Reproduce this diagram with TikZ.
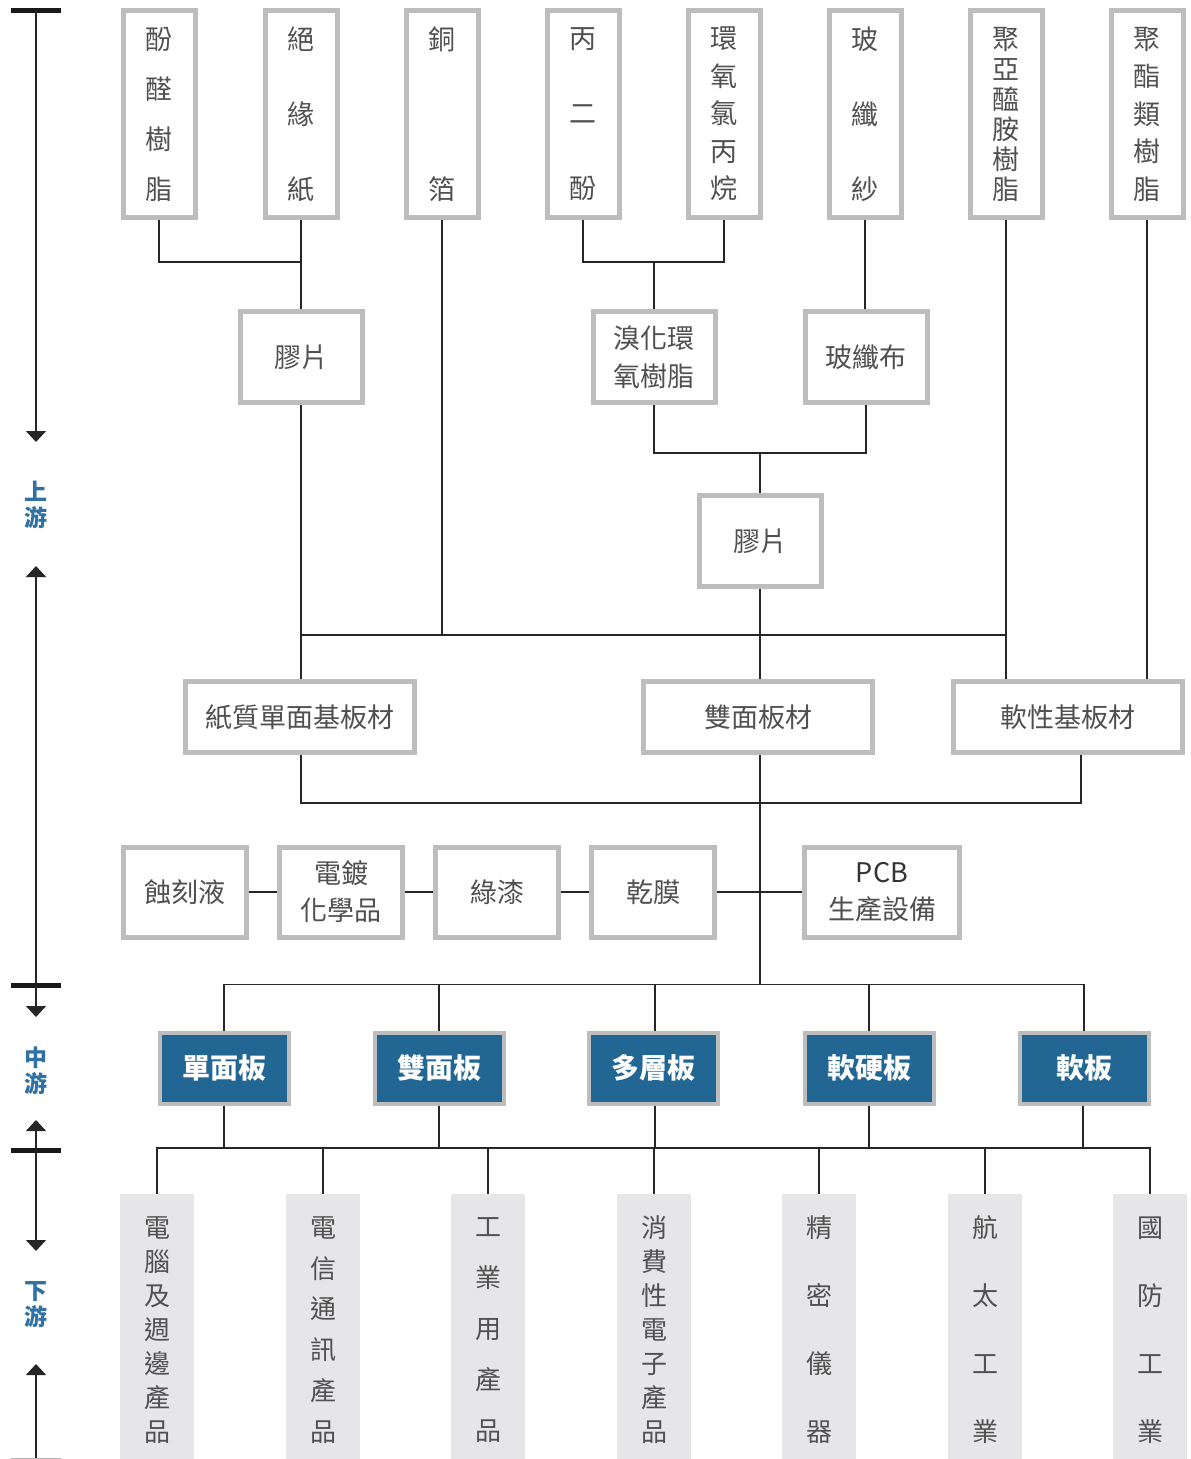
\documentclass[tikz,border=0pt]{standalone}
\usepackage{fontspec}
\newfontfamily\cjk{Noto Sans CJK TC}
\usetikzlibrary{arrows.meta}
\definecolor{bgrey}{HTML}{BDBDBD}
\definecolor{tgrey}{HTML}{505050}
\definecolor{fgrey}{HTML}{E6E6E8}
\definecolor{bfill}{HTML}{226793}
\definecolor{lblue}{HTML}{2F72A3}
\tikzset{
  gbox/.style={draw=bgrey, line width=5pt, fill=white, inner sep=0pt, align=center, text=tgrey},
  vsp/.style={font=\cjk\fontsize{27}{#1}\selectfont},
  topbox/.style={gbox, minimum width=72pt, minimum height=207pt},
  midbox/.style={gbox, minimum width=122pt, minimum height=91pt, vsp=38},
  widebox/.style={gbox, minimum width=229pt, minimum height=71pt, vsp=38},
  rowbox/.style={gbox, minimum width=123pt, minimum height=90pt, vsp=37},
  bluebox/.style={draw=bgrey, line width=4pt, fill=bfill, inner sep=0pt, minimum width=129pt, minimum height=71pt, text=white, font=\cjk\bfseries\fontsize{28}{34}\selectfont},
  endbox/.style={fill=fgrey, inner sep=0pt, minimum width=74pt, minimum height=272pt, align=center, text=tgrey},
  esp/.style={font=\cjk\fontsize{26}{#1}\selectfont},
  conn/.style={draw=black!85, line width=1.5pt},
  axis/.style={draw=black!85, line width=1.5pt},
  axtip/.style={-{Triangle[width=20pt,length=11pt]}},
  bar/.style={draw=black!90, line width=5pt},
  alabel/.style={text=lblue, align=center, inner sep=0pt, font=\cjk\bfseries\fontsize{23}{26}\selectfont}
}
\begin{document}
\begin{tikzpicture}[x=1pt,y=-1pt]
\useasboundingbox (0,0) rectangle (1191,1459);
\fill[white] (0,0) rectangle (1191,1459);

% left axis
\draw[bar] (11,10) -- (61,10);
\draw[axis,axtip] (36,10) -- (36,442);
\node[alabel] (lab1) at (36,505) {上\\游};
\draw[axis,axtip] (36,985) -- (36,566);
\draw[bar] (11,985) -- (61,985);
\draw[axis,axtip] (36,985) -- (36,1017);
\node[alabel] (lab2) at (36,1071) {中\\游};
\draw[axis,axtip] (36,1150) -- (36,1120);
\draw[bar] (11,1150) -- (61,1150);
\draw[axis,axtip] (36,1150) -- (36,1251);
\node[alabel] (lab3) at (36,1305) {下\\游};
\draw[axis,axtip] (36,1462) -- (36,1364);
\draw[bar, draw=black!30] (11,1460) -- (61,1460);

% top raw materials
\node[topbox, vsp=50] (t1) at (159,114) {酚\\醛\\樹\\脂};
\node[topbox, vsp=75] (t2) at (301,114) {絕\\緣\\紙};
\node[topbox, vsp=150] (t3) at (442,114) {銅\\箔};
\node[topbox, vsp=75] (t4) at (583,114) {丙\\二\\酚};
\node[topbox, vsp=37.5] (t5) at (724,114) {環\\氧\\氯\\丙\\烷};
\node[topbox, vsp=75] (t6) at (865,114) {玻\\纖\\紗};
\node[topbox, vsp=30] (t7) at (1006,114) {聚\\亞\\醯\\胺\\樹\\脂};
\node[topbox, vsp=37.5] (t8) at (1147,114) {聚\\酯\\類\\樹\\脂};

% intermediate
\node[midbox] (m1) at (301,357) {膠片};
\node[midbox] (m2) at (654,357) {溴化環\\氧樹脂};
\node[midbox] (m3) at (866,357) {玻纖布};
\node[midbox] (m4) at (760,541) {膠片};

\node[widebox] (s1) at (300,717) {紙質單面基板材};
\node[widebox] (s2) at (758,717) {雙面板材};
\node[widebox] (s3) at (1068,717) {軟性基板材};

\node[rowbox] (r1) at (185,892) {蝕刻液};
\node[rowbox] (r2) at (341,892) {電鍍\\化學品};
\node[rowbox] (r3) at (497,892) {綠漆};
\node[rowbox] (r4) at (653,892) {乾膜};
\node[rowbox, minimum width=155pt] (r5) at (882,892) {\textcolor{black!80}{PCB}\\生產設備};

% midstream
\node[bluebox] (b1) at (224,1068) {單面板};
\node[bluebox] (b2) at (439,1068) {雙面板};
\node[bluebox] (b3) at (653,1068) {多層板};
\node[bluebox] (b4) at (869,1068) {軟硬板};
\node[bluebox] (b5) at (1084,1068) {軟板};

% downstream
\node[endbox, esp=34] (d1) at (157,1330) {電\\腦\\及\\週\\邊\\產\\品};
\node[endbox, esp=40.8] (d2) at (323,1330) {電\\信\\通\\訊\\產\\品};
\node[endbox, esp=51] (d3) at (488,1330) {工\\業\\用\\產\\品};
\node[endbox, esp=34] (d4) at (654,1330) {消\\費\\性\\電\\子\\產\\品};
\node[endbox, esp=68] (d5) at (819,1330) {精\\密\\儀\\器};
\node[endbox, esp=68] (d6) at (985,1330) {航\\太\\工\\業};
\node[endbox, esp=68] (d7) at (1150,1330) {國\\防\\工\\業};

% connectors: top
\draw[conn] (t1.south) -- ++(0,42) -| (t2.south);
\draw[conn] (t2.south) -- (m1.north);
\draw[conn] (t4.south) -- ++(0,42) -| (t5.south);
\draw[conn] (m2.north) -- (m2.north |- 0,262);
\draw[conn] (t6.south) -- (t6.south |- m3.north);
\draw[conn] (m2.south) -- ++(0,48) -| (m3.south);
\draw[conn] (m4.north) -- (m4.north |- 0,453);
\draw[conn] (m1.south) -- (s1.north -| m1.south);
\draw[conn] (t3.south) -- (t3.south |- 0,635);
\coordinate (h1) at (301,635);
\coordinate (h2) at (1006,635);
\draw[conn] (h1) -- (h2);
\draw[conn] (t7.south) -- (t7.south |- s3.north);
\draw[conn] (t8.south) -- (t8.south |- s3.north);
\draw[conn] (m4.south) -- (m4.south |- s2.north);

% substrates to bus
\coordinate (s3b) at (1081,755);
\draw[conn] ([xshift=1pt]s1.south) -- ++(0,48) -| (s3b);
\coordinate (v985) at (760,985);
\draw[conn] (760,755) -- (v985);

% supplies row
\draw[conn] (r1.east) -- (r2.west);
\draw[conn] (r2.east) -- (r3.west);
\draw[conn] (r3.east) -- (r4.west);
\draw[conn] (r4.east) -- (r5.west);

% bus to blue boxes
\draw[conn] (b1.north) -- ++(0,-46) -| (b5.north);
\draw[conn] (b2.north) -- ++(0,-46);
\draw[conn] ([xshift=2pt]b3.north) -- ++(0,-46);
\draw[conn] (b4.north) -- ++(0,-46);

% blue boxes to downstream
\foreach \b in {b1,b2,b4} \draw[conn] (\b.south) -- ++(0,42);
\draw[conn] ([xshift=2pt]b3.south) -- ++(0,42);
\draw[conn] ([xshift=-1pt]b5.south) -- ++(0,42);
\draw[conn] (d1.north) -- ++(0,-46) -| (d7.north);
\foreach \d in {d2,d3,d4,d5,d6} \draw[conn] (\d.north) -- ++(0,-46);
\end{tikzpicture}
\end{document}
